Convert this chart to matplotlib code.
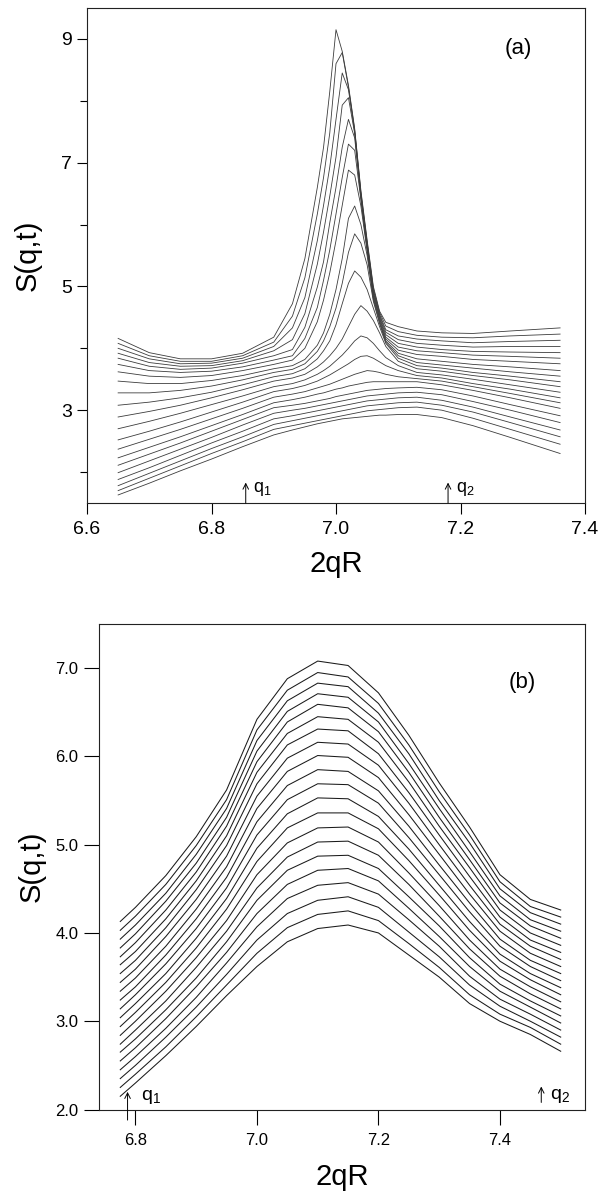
import matplotlib
matplotlib.use('Agg')
import matplotlib.pyplot as plt

plt.rcParams['font.family'] = ['Liberation Sans', 'DejaVu Sans']
plt.rcParams['mathtext.fontset'] = 'custom'
plt.rcParams['mathtext.rm'] = 'Liberation Sans'

# ---- panel (a): S(q,t) curves, top (latest) to bottom (earliest)
xa = [6.65, 6.70, 6.75, 6.80, 6.85, 6.90, 6.93, 6.95, 6.97, 6.98, 6.99, 7.00, 7.01,
      7.02, 7.03, 7.04, 7.05, 7.06, 7.07, 7.08, 7.10, 7.13, 7.17, 7.22, 7.28, 7.36]
sa = [
    [4.16, 3.93, 3.83, 3.83, 3.92, 4.18, 4.72, 5.45, 6.60, 7.25, 8.15, 9.15, 8.80, 8.25, 7.55, 6.55, 5.75, 5.00, 4.60, 4.42, 4.35, 4.28, 4.25, 4.24, 4.28, 4.33],
    [4.08, 3.88, 3.79, 3.79, 3.88, 4.10, 4.52, 5.14, 6.17, 6.76, 7.48, 8.60, 8.78, 8.22, 7.53, 6.52, 5.72, 4.97, 4.58, 4.36, 4.27, 4.21, 4.18, 4.17, 4.20, 4.23],
    [4.00, 3.83, 3.75, 3.76, 3.84, 4.03, 4.33, 4.82, 5.74, 6.31, 6.93, 7.70, 8.45, 8.18, 7.50, 6.49, 5.69, 4.94, 4.55, 4.30, 4.20, 4.15, 4.12, 4.09, 4.11, 4.13],
    [3.92, 3.77, 3.71, 3.72, 3.80, 3.96, 4.14, 4.56, 5.36, 5.88, 6.46, 7.09, 7.93, 8.05, 7.47, 6.46, 5.66, 4.91, 4.53, 4.26, 4.14, 4.08, 4.05, 4.02, 4.03, 4.03],
    [3.84, 3.71, 3.66, 3.68, 3.76, 3.88, 3.98, 4.34, 4.99, 5.40, 6.03, 6.60, 7.25, 7.70, 7.40, 6.43, 5.63, 4.88, 4.50, 4.22, 4.08, 4.02, 3.98, 3.95, 3.94, 3.93],
    [3.74, 3.64, 3.61, 3.63, 3.70, 3.81, 3.88, 4.16, 4.66, 5.10, 5.59, 6.17, 6.76, 7.30, 7.20, 6.40, 5.60, 4.85, 4.48, 4.18, 4.02, 3.96, 3.93, 3.89, 3.87, 3.84],
    [3.62, 3.55, 3.53, 3.56, 3.64, 3.74, 3.81, 4.00, 4.43, 4.78, 5.22, 5.74, 6.31, 6.88, 6.80, 6.30, 5.57, 4.82, 4.45, 4.15, 3.97, 3.90, 3.87, 3.82, 3.79, 3.75],
    [3.47, 3.43, 3.43, 3.48, 3.56, 3.67, 3.72, 3.82, 4.05, 4.25, 4.55, 4.95, 5.45, 6.10, 6.30, 6.00, 5.50, 4.79, 4.42, 4.12, 3.92, 3.83, 3.79, 3.74, 3.70, 3.64],
    [3.28, 3.28, 3.32, 3.39, 3.49, 3.61, 3.66, 3.75, 3.95, 4.12, 4.35, 4.65, 5.05, 5.55, 5.85, 5.70, 5.35, 4.76, 4.40, 4.10, 3.88, 3.77, 3.73, 3.68, 3.62, 3.55],
    [3.08, 3.13, 3.20, 3.29, 3.41, 3.54, 3.59, 3.67, 3.83, 3.96, 4.12, 4.38, 4.72, 5.05, 5.25, 5.15, 4.95, 4.65, 4.35, 4.08, 3.84, 3.72, 3.68, 3.61, 3.55, 3.46],
    [2.89, 2.98, 3.08, 3.20, 3.33, 3.47, 3.52, 3.58, 3.70, 3.78, 3.88, 4.00, 4.15, 4.35, 4.55, 4.69, 4.60, 4.45, 4.25, 4.03, 3.79, 3.67, 3.63, 3.56, 3.49, 3.38],
    [2.70, 2.82, 2.95, 3.09, 3.23, 3.38, 3.43, 3.49, 3.58, 3.64, 3.71, 3.80, 3.89, 4.00, 4.12, 4.20, 4.17, 4.08, 3.96, 3.85, 3.72, 3.61, 3.57, 3.50, 3.41, 3.29],
    [2.52, 2.66, 2.81, 2.97, 3.13, 3.30, 3.35, 3.40, 3.47, 3.52, 3.57, 3.63, 3.69, 3.75, 3.82, 3.87, 3.88, 3.84, 3.78, 3.72, 3.64, 3.56, 3.52, 3.43, 3.34, 3.20],
    [2.37, 2.53, 2.69, 2.86, 3.03, 3.21, 3.26, 3.30, 3.36, 3.39, 3.42, 3.46, 3.50, 3.54, 3.58, 3.61, 3.64, 3.63, 3.61, 3.58, 3.54, 3.51, 3.47, 3.38, 3.27, 3.12],
    [2.23, 2.40, 2.57, 2.75, 2.93, 3.12, 3.17, 3.21, 3.26, 3.28, 3.31, 3.34, 3.36, 3.39, 3.41, 3.43, 3.45, 3.46, 3.46, 3.46, 3.46, 3.46, 3.41, 3.32, 3.20, 3.03],
    [2.11, 2.29, 2.47, 2.66, 2.85, 3.04, 3.08, 3.11, 3.15, 3.17, 3.19, 3.22, 3.24, 3.26, 3.28, 3.30, 3.32, 3.33, 3.34, 3.35, 3.36, 3.37, 3.33, 3.23, 3.09, 2.91],
    [1.99, 2.18, 2.37, 2.56, 2.76, 2.95, 3.00, 3.03, 3.07, 3.09, 3.11, 3.13, 3.15, 3.17, 3.19, 3.21, 3.23, 3.24, 3.25, 3.26, 3.28, 3.29, 3.25, 3.14, 3.00, 2.80],
    [1.88, 2.07, 2.27, 2.47, 2.66, 2.86, 2.91, 2.95, 2.99, 3.01, 3.03, 3.05, 3.07, 3.09, 3.11, 3.13, 3.15, 3.16, 3.17, 3.18, 3.20, 3.21, 3.16, 3.05, 2.89, 2.68],
    [1.78, 1.98, 2.18, 2.38, 2.57, 2.77, 2.83, 2.87, 2.91, 2.93, 2.95, 2.97, 2.99, 3.01, 3.03, 3.05, 3.07, 3.08, 3.09, 3.10, 3.12, 3.13, 3.08, 2.97, 2.80, 2.57],
    [1.70, 1.90, 2.10, 2.30, 2.49, 2.69, 2.75, 2.79, 2.83, 2.85, 2.87, 2.89, 2.91, 2.93, 2.95, 2.97, 2.99, 3.00, 3.01, 3.02, 3.04, 3.05, 3.00, 2.87, 2.69, 2.45],
    [1.63, 1.82, 2.02, 2.21, 2.41, 2.60, 2.68, 2.73, 2.78, 2.80, 2.82, 2.84, 2.86, 2.87, 2.88, 2.89, 2.90, 2.91, 2.92, 2.92, 2.93, 2.93, 2.88, 2.75, 2.56, 2.30],
]

# ---- panel (b)
xb = [6.775, 6.80, 6.85, 6.90, 6.95, 7.00, 7.05, 7.10, 7.15, 7.20, 7.25, 7.30, 7.35, 7.40, 7.45, 7.50]
sb = [
    [4.13, 4.29, 4.65, 5.09, 5.62, 6.42, 6.88, 7.08, 7.03, 6.72, 6.24, 5.70, 5.20, 4.66, 4.38, 4.26],
    [4.03, 4.19, 4.55, 4.99, 5.51, 6.30, 6.75, 6.95, 6.90, 6.60, 6.13, 5.60, 5.11, 4.58, 4.30, 4.18],
    [3.93, 4.09, 4.45, 4.89, 5.41, 6.18, 6.63, 6.83, 6.79, 6.49, 6.03, 5.50, 5.02, 4.50, 4.23, 4.10],
    [3.83, 3.99, 4.36, 4.79, 5.31, 6.06, 6.51, 6.71, 6.67, 6.39, 5.92, 5.41, 4.92, 4.42, 4.15, 4.02],
    [3.73, 3.89, 4.26, 4.69, 5.21, 5.94, 6.39, 6.59, 6.55, 6.28, 5.82, 5.31, 4.83, 4.34, 4.08, 3.94],
    [3.64, 3.79, 4.16, 4.59, 5.10, 5.82, 6.26, 6.45, 6.42, 6.16, 5.71, 5.21, 4.74, 4.26, 4.00, 3.86],
    [3.54, 3.69, 4.06, 4.49, 4.99, 5.69, 6.13, 6.31, 6.29, 6.03, 5.59, 5.11, 4.64, 4.18, 3.92, 3.78],
    [3.44, 3.59, 3.96, 4.38, 4.87, 5.55, 5.98, 6.16, 6.14, 5.90, 5.47, 5.00, 4.54, 4.10, 3.85, 3.70],
    [3.34, 3.49, 3.85, 4.27, 4.75, 5.41, 5.83, 6.01, 5.99, 5.76, 5.34, 4.89, 4.44, 4.02, 3.77, 3.62],
    [3.24, 3.39, 3.75, 4.16, 4.63, 5.26, 5.67, 5.85, 5.83, 5.61, 5.21, 4.77, 4.34, 3.93, 3.69, 3.54],
    [3.14, 3.30, 3.65, 4.05, 4.51, 5.11, 5.51, 5.69, 5.68, 5.47, 5.08, 4.66, 4.24, 3.85, 3.62, 3.46],
    [3.04, 3.20, 3.54, 3.94, 4.39, 4.96, 5.35, 5.53, 5.52, 5.32, 4.95, 4.54, 4.13, 3.76, 3.54, 3.38],
    [2.94, 3.10, 3.44, 3.83, 4.27, 4.81, 5.19, 5.36, 5.36, 5.18, 4.82, 4.43, 4.03, 3.68, 3.47, 3.30],
    [2.84, 3.00, 3.34, 3.72, 4.14, 4.66, 5.02, 5.19, 5.20, 5.03, 4.68, 4.31, 3.92, 3.59, 3.39, 3.22],
    [2.74, 2.90, 3.23, 3.61, 4.02, 4.51, 4.86, 5.03, 5.04, 4.88, 4.55, 4.19, 3.82, 3.51, 3.31, 3.14],
    [2.65, 2.80, 3.13, 3.49, 3.90, 4.37, 4.71, 4.87, 4.88, 4.73, 4.41, 4.08, 3.72, 3.42, 3.23, 3.06],
    [2.55, 2.70, 3.03, 3.39, 3.78, 4.22, 4.55, 4.71, 4.73, 4.59, 4.28, 3.96, 3.62, 3.34, 3.16, 2.98],
    [2.45, 2.60, 2.92, 3.27, 3.66, 4.07, 4.39, 4.54, 4.57, 4.44, 4.15, 3.85, 3.51, 3.25, 3.08, 2.90],
    [2.35, 2.50, 2.82, 3.16, 3.53, 3.92, 4.22, 4.37, 4.41, 4.29, 4.01, 3.73, 3.41, 3.17, 3.00, 2.82],
    [2.25, 2.40, 2.71, 3.05, 3.41, 3.77, 4.06, 4.21, 4.25, 4.14, 3.88, 3.61, 3.30, 3.08, 2.93, 2.74],
    [2.15, 2.30, 2.61, 2.94, 3.29, 3.62, 3.90, 4.05, 4.09, 4.00, 3.75, 3.50, 3.20, 3.00, 2.85, 2.66],
]

# arrows marking q1 / q2
qa = [6.855, 7.18]
qb = [6.787, 7.468]

fig = plt.figure(figsize=(6.08, 11.95), dpi=100)
W, H = 608.0, 1195.0
axa = fig.add_axes([87 / W, 1 - 503 / H, 498 / W, 495 / H])
axb = fig.add_axes([99 / W, 1 - 1109.5 / H, 486 / W, 485.5 / H])

for row in sa:
    axa.plot(xa, row, color='#3c3c3c', lw=0.6)
for row in sb:
    axb.plot(xb, row, color='#1a1a1a', lw=0.75)

# panel (a) axes
axa.set_xlim(6.6, 7.4)
axa.set_ylim(1.5, 9.5)
axa.set_xticks([6.6, 6.8, 7.0, 7.2, 7.4])
axa.set_xticklabels(['6.6', '6.8', '7.0', '7.2', '7.4'])
axa.set_yticks([3, 5, 7, 9])
axa.set_yticks([2, 4, 6, 8], minor=True)
axa.tick_params(axis='both', which='major', direction='out', labelsize=14, width=0.8)
axa.tick_params(axis='x', which='major', length=8, pad=5)
axa.tick_params(axis='y', which='major', length=7, pad=4)
axa.tick_params(axis='y', which='minor', direction='out', length=5, width=0.8)
axa.set_xlabel('2qR', fontsize=21)
axa.set_ylabel('S(q,t)', fontsize=21)
axa.yaxis.set_label_coords(-0.09, 0.5)
axa.xaxis.set_label_coords(0.5, -0.095)
axa.text(7.293, 8.85, '(a)', fontsize=16, ha='center', va='center')

# panel (b) axes
axb.set_xlim(6.74, 7.54)
axb.set_ylim(2.0, 7.5)
axb.set_xticks([6.8, 7.0, 7.2, 7.4])
axb.set_xticklabels(['6.8', '7.0', '7.2', '7.4'])
axb.set_yticks([2, 3, 4, 5, 6, 7])
axb.set_yticklabels(['2.0', '3.0', '4.0', '5.0', '6.0', '7.0'])
axb.tick_params(axis='both', direction='out', labelsize=12, length=11, width=0.8)
axb.tick_params(axis='x', pad=6)
axb.tick_params(axis='y', pad=4)
axb.set_xlabel('2qR', fontsize=21)
axb.set_ylabel('S(q,t)', fontsize=21)
axb.yaxis.set_label_coords(-0.11, 0.5)
axb.xaxis.set_label_coords(0.5, -0.11)
axb.text(7.436, 6.84, '(b)', fontsize=16, ha='center', va='center')

for ax in (axa, axb):
    for sp in ax.spines.values():
        sp.set_linewidth(0.8)
        sp.set_color('#222222')

arrow = dict(arrowstyle='->', lw=0.7, color='black', shrinkA=0, shrinkB=0)
for q, lab in zip(qa, ['$\\mathregular{q_1}$', '$\\mathregular{q_2}$']):
    axa.annotate('', xy=(q, 1.83), xytext=(q, 1.5), arrowprops=arrow)
    axa.text(q + 0.012, 1.68, lab, fontsize=13, ha='left', va='baseline')

axb.annotate('', xy=(qb[0], 2.2), xytext=(qb[0], 1.88), arrowprops=arrow,
             annotation_clip=False)
axb.text(qb[0] + 0.022, 2.11, '$\\mathregular{q_1}$', fontsize=14, ha='left', va='baseline')
axb.annotate('', xy=(qb[1], 2.26), xytext=(qb[1], 2.08), arrowprops=arrow)
axb.text(qb[1] + 0.014, 2.12, '$\\mathregular{q_2}$', fontsize=14, ha='left', va='baseline')

fig.savefig('out.png', dpi=100)
